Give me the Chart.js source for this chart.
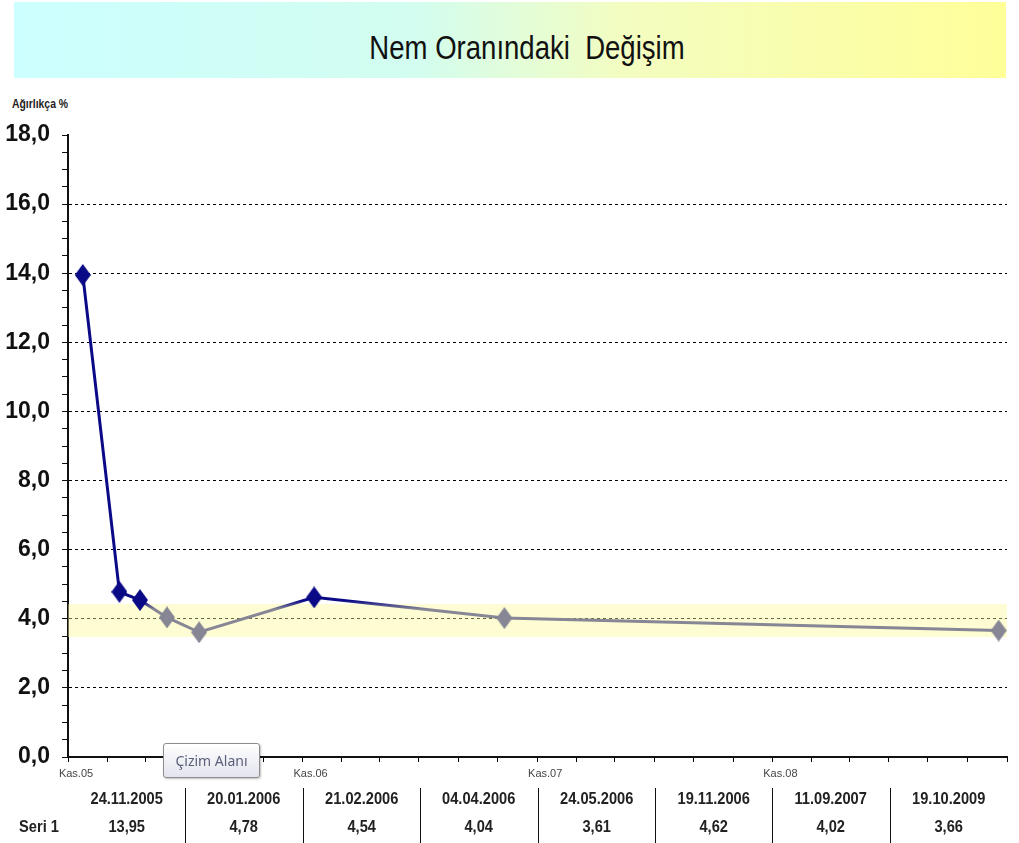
<!DOCTYPE html>
<html>
<head>
<meta charset="utf-8">
<script src="https://cdn.jsdelivr.net/npm/chart.js@4"></script>
<style>
  body { margin: 0; background: #fff; width: 1019px; height: 843px; overflow: hidden; position: relative; font-family: 'Liberation Sans', Arial, sans-serif; }
  #banner { position: absolute; left: 14px; top: 2px; width: 992px; height: 76px;
    background: linear-gradient(to right, #ccffff 0%, #d2fdf0 40%, #f4fdc0 62%, #ffff99 100%); }
  #banner span { position: absolute; left: 0; width: 1026px; top: 26px; text-align: center;
    font: 34px 'Liberation Sans', Arial, sans-serif; color: #111; transform: scaleX(0.81); transform-origin: 513px 0; }
  #ytitle { position: absolute; left: 12px; top: 96px; font: bold 13px 'Liberation Sans', Arial, sans-serif; color: #222;
    transform: scaleX(0.8); transform-origin: 0 0; white-space: nowrap; }
  #chart { position: absolute; left: 0; top: 0; }
  #tbl { position: absolute; left: 0; top: 788px; width: 1019px; height: 55px; }
  .cell { position: absolute; width: 117px; text-align: center; font: bold 17px 'Liberation Sans', Arial, sans-serif; color: #222;
    transform: scaleX(0.86); }
  .sep { position: absolute; top: 0; width: 1px; height: 55px; background: #111; }
  #tip { position: absolute; left: 163px; top: 743px; width: 95px; height: 33px; border: 1px solid #8c8c8c; border-radius: 3px;
    background: linear-gradient(#ffffff, #e3e4ee); box-shadow: 1px 1px 2px rgba(0,0,0,0.25);
    font: 14px 'Noto Sans', sans-serif; color: #5a5f7a; text-align: center; line-height: 33px; }
</style>
</head>
<body>
<div id="banner"><span>Nem Oranındaki&nbsp; Değişim</span></div>
<div id="ytitle">Ağırlıkça %</div>
<canvas id="chart" width="1019" height="843"></canvas>
<div id="tbl"></div>
<div id="tip">Çizim Alanı</div>
<script>
const dates = ['24.11.2005', '20.01.2006', '21.02.2006', '04.04.2006', '24.05.2006', '19.11.2006', '11.09.2007', '19.10.2009'];
const values = [13.95, 4.78, 4.54, 4.04, 3.61, 4.62, 4.02, 3.66];
const seriesName = 'Seri 1';
const bandLow = 3.47;
const bandHigh = 4.43;
const axisStart = '01.11.2005';
const axisEnd = '01.11.2009';
const monthNames = ['Oca', 'Şub', 'Mar', 'Nis', 'May', 'Haz', 'Tem', 'Ağu', 'Eyl', 'Eki', 'Kas', 'Ara'];

const NAVY = '#0a0a86';
const GRAY = '#868695';

function toDay(s) {
  const p = s.split('.');
  return Date.UTC(+p[2], +p[1] - 1, +p[0]) / 86400000;
}
function fromDay(d) {
  return new Date(d * 86400000);
}

const xMin = toDay(axisStart);
const xMax = toDay(axisEnd);

// tick every two months
const xTicks = [];
for (let m = 0; m <= 48; m += 2) {
  xTicks.push(Date.UTC(2005, 10 + m, 1) / 86400000);
}

function diamond(color) {
  const c = document.createElement('canvas');
  c.width = 16; c.height = 22;
  const g = c.getContext('2d');
  g.fillStyle = color;
  g.beginPath();
  g.moveTo(8, 0); g.lineTo(16, 11); g.lineTo(8, 22); g.lineTo(0, 11);
  g.closePath();
  g.fill();
  return c;
}
const navyMark = diamond(NAVY);
const grayMark = diamond(GRAY);

const points = dates.map((d, i) => ({ x: toDay(d), y: values[i] }));

new Chart(document.getElementById('chart'), {
  type: 'line',
  data: {
    datasets: [{
      label: seriesName,
      data: points,
      borderWidth: 3,
      borderColor: function (context) {
        const chart = context.chart;
        const area = chart.chartArea;
        if (!area) return NAVY;
        const y = chart.scales.y;
        const top = y.getPixelForValue(bandHigh + 0.1);
        const bot = y.getPixelForValue(bandHigh - 0.15);
        const grad = chart.ctx.createLinearGradient(0, top, 0, bot);
        grad.addColorStop(0, NAVY);
        grad.addColorStop(1, GRAY);
        return grad;
      },
      pointStyle: points.map(p => p.y > bandHigh ? navyMark : grayMark),
      pointRadius: 8,
      tension: 0,
      order: 0
    }, {
      label: 'band',
      data: [{ x: xMin, y: bandHigh }, { x: xMax, y: bandHigh }],
      borderWidth: 0,
      pointRadius: 0,
      backgroundColor: 'rgba(252, 248, 150, 0.42)',
      fill: '+1',
      order: 2
    }, {
      label: 'bandLow',
      data: [{ x: xMin, y: bandLow }, { x: xMax, y: bandLow }],
      borderWidth: 0,
      pointRadius: 0,
      fill: false,
      order: 3
    }]
  },
  options: {
    responsive: false,
    animation: false,
    layout: { padding: { top: 135, right: 12, left: 0, bottom: 56 } },
    plugins: {
      legend: { display: false },
      tooltip: { enabled: false }
    },
    scales: {
      x: {
        type: 'linear',
        min: xMin,
        max: xMax,
        afterBuildTicks: function (scale) {
          scale.ticks = xTicks.map(v => ({ value: v }));
        },
        afterFit: function (scale) { scale.height = 30; },
        ticks: {
          autoSkip: false,
          maxRotation: 0,
          padding: 5,
          labelOffset: 8,
          color: '#444',
          font: { family: "'Liberation Sans', Arial, sans-serif", size: 11 },
          callback: function (v) {
            const d = fromDay(v);
            if (d.getUTCMonth() !== 10 || v === xMax) return '';
            return monthNames[10] + '.' + String(d.getUTCFullYear()).slice(2);
          }
        },
        grid: { drawOnChartArea: false, color: '#000', tickLength: 5, tickWidth: 1 },
        border: { display: true, color: '#111', width: 2 }
      },
      y: {
        min: 0,
        max: 18,
        afterBuildTicks: function (scale) {
          const t = [];
          for (let v = 0; v <= 18; v += 0.5) t.push({ value: v });
          scale.ticks = t;
        },
        afterFit: function (scale) { scale.width = 68; },
        ticks: {
          autoSkip: false,
          padding: 12,
          color: '#111',
          font: { family: "'Liberation Sans', Arial, sans-serif", size: 23, weight: 'bold' },
          callback: function (v) {
            return v % 2 === 0 ? v.toFixed(1).replace('.', ',') : '';
          }
        },
        grid: {
          color: function (ctx) {
            const v = ctx.tick ? ctx.tick.value : -1;
            return (v % 2 === 0 && v > 0 && v < 18) ? '#000' : 'rgba(0,0,0,0)';
          },
          tickColor: '#111',
          lineWidth: 1,
          tickLength: 6
        },
        border: { display: true, color: '#111', width: 2, dash: [3, 3] }
      }
    }
  }
});

// data table under the axis
const tbl = document.getElementById('tbl');
const colW = (1007 - 68) / dates.length;
function addCell(text, left, top, width) {
  const d = document.createElement('div');
  d.className = 'cell';
  d.textContent = text;
  d.style.left = left + 'px';
  d.style.top = top + 'px';
  if (width) d.style.width = width + 'px';
  tbl.appendChild(d);
}
addCell(seriesName, 12, 29, 54);
dates.forEach((d, i) => {
  const left = 68 + i * colW;
  addCell(d, left, 1, colW);
  addCell(values[i].toFixed(2).replace('.', ','), left, 29, colW);
  if (i > 0) {
    const s = document.createElement('div');
    s.className = 'sep';
    s.style.left = Math.round(left) + 'px';
    tbl.appendChild(s);
  }
});
</script>
</body>
</html>
